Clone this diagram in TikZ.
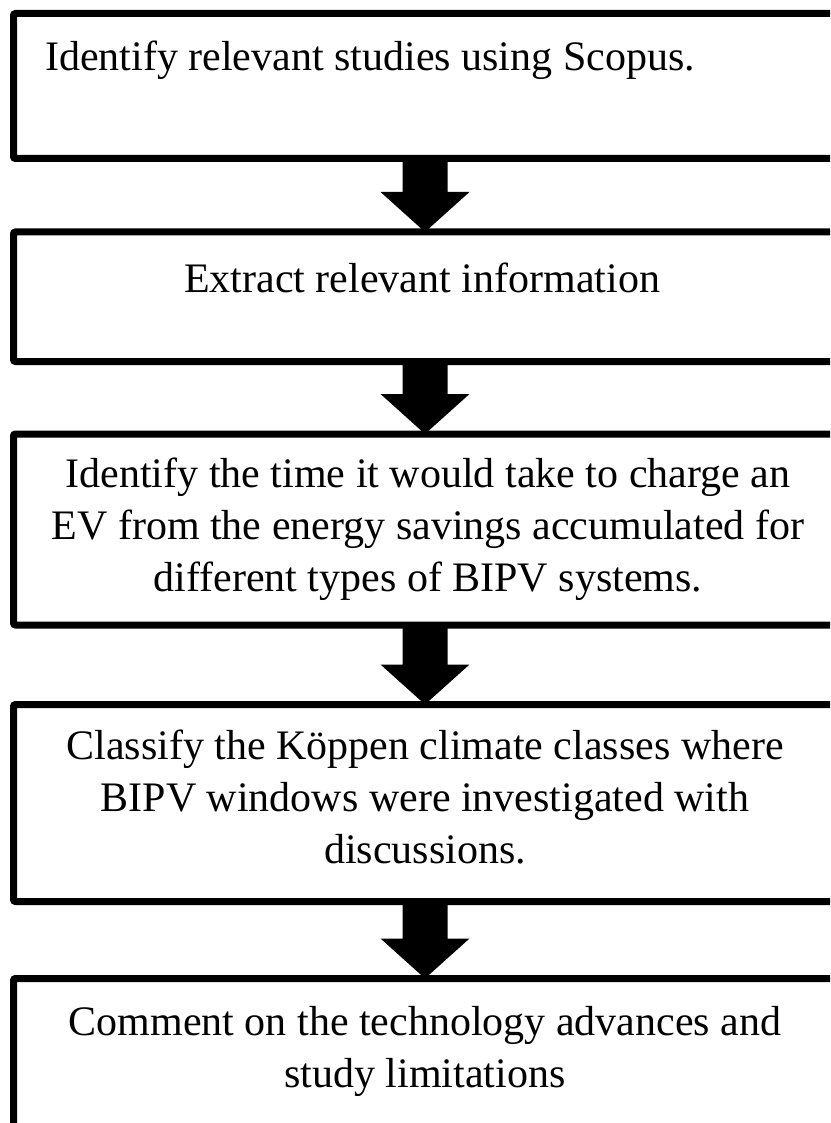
\documentclass[tikz,border=0pt]{standalone}
\usepackage{fontspec}
\setmainfont{Liberation Serif}
\usetikzlibrary{positioning, calc}

\begin{document}
\begin{tikzpicture}[x=1pt, y=-1pt]
	% styles for the boxes and their texts
	\tikzset{
		stage/.style={
			draw, line width=7pt, rounded corners=2pt,
			minimum width=823pt, inner sep=0pt, outer sep=0pt
		},
		stage text/.style={
			font=\fontsize{42}{52}\selectfont,
			align=center, inner sep=0pt
		}
	}
	\useasboundingbox (0,0) rectangle (830,1123);
	\clip (0,0) rectangle (830,1123);
	
	% five boxes, top to bottom
	\node[stage, minimum height=145pt] (box1) at (425,86) {};
	\node[stage, minimum height=129.5pt] (box2) at (425,296.75) {};
	\node[stage, minimum height=191pt] (box3) at (425,529.5) {};
	\node[stage, minimum height=197pt] (box4) at (425,803) {};
	\node[stage, minimum height=161.5pt] (box5) at (425,1059.25) {};
	
	% texts in the boxes
	\node[stage text, anchor=base west] (t1) at ($(box1.north west)+(31.5,57.5)$)
		{Identify relevant studies using Scopus.};
	\node[stage text, anchor=base] (t2) at ($(box2.center)+(-3,-4.75)$)
		{Extract relevant information};
	\node[stage text] (t3) at ($(box3.center)+(3,0)$)
		{Identify the time it would take to charge an\\
		 EV from the energy savings accumulated for\\
		 different types of BIPV systems.};
	\node[stage text] (t4) at ($(box4.center)+(0,-6)$)
		{Classify the Köppen climate classes where\\
		 BIPV windows were investigated with\\
		 discussions.};
	\node[stage text] (t5) at ($(box5.north)+(0,72.5)$)
		{Comment on the technology advances and\\
		 study limitations};
	
	% block arrows between the boxes
	\foreach \a/\b in {box1/box2, box2/box3, box3/box4, box4/box5} {
		\fill ($(\a.south)+(-22.5,0)$) -- ($(\a.south)+(22.5,0)$)
			-- ($(\b.north)+(22.5,-40)$) -- ($(\b.north)+(44.5,-40)$)
			-- (\b.north)
			-- ($(\b.north)+(-44.5,-40)$) -- ($(\b.north)+(-22.5,-40)$) -- cycle;
	}
\end{tikzpicture}
\end{document}
